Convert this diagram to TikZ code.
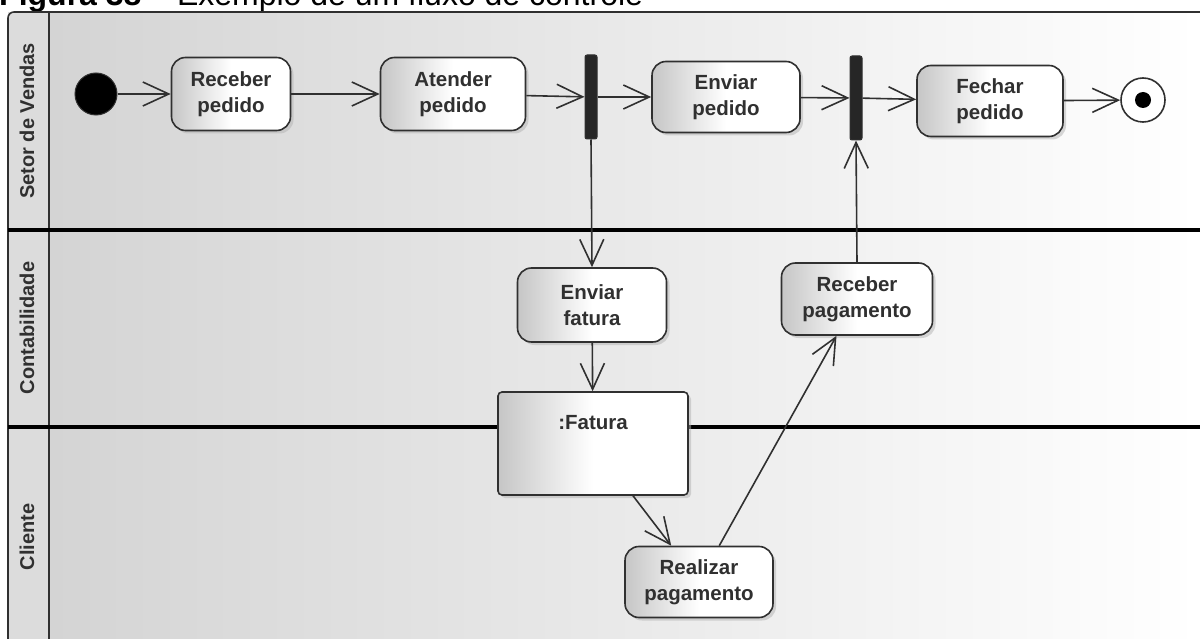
\documentclass[tikz,border=0pt]{standalone}
\usepackage{fontspec}
\setmainfont{Liberation Sans}
\usetikzlibrary{arrows.meta,shadows}
\definecolor{ink}{HTML}{303030}
\definecolor{lanegray}{HTML}{D4D4D4}
\definecolor{headgray}{HTML}{DCDCDC}
\begin{document}
\begin{tikzpicture}[x=1pt,y=-1pt,
  action/.style={draw=ink, line width=1.6pt, rounded corners=14pt,
    left color=gray!45, right color=white, middle color=white,
    font=\bfseries\fontsize{20.5}{26}\selectfont, text=ink, align=center,
    inner sep=0pt,
    drop shadow={shadow xshift=3pt, shadow yshift=-3pt, fill=gray!60, opacity=.5}},
  objbox/.style={draw=ink, line width=1.6pt, rounded corners=4pt,
    left color=gray!45, right color=white, middle color=white, inner sep=0pt,
    drop shadow={shadow xshift=3pt, shadow yshift=-3pt, fill=gray!60, opacity=.5}},
  bar/.style={fill=black!85, draw=ink, line width=1pt, rounded corners=2pt,
    minimum width=12pt, minimum height=84pt, inner sep=0pt},
  lanelabel/.style={rotate=90, font=\bfseries\fontsize{20}{22}\selectfont, text=ink},
  flow/.style={draw=ink, line width=1.6pt, -{Straight Barb[length=26pt, width=24pt]}},
  frameline/.style={draw=ink, line width=1.6pt},
  sepline/.style={draw=black, line width=3.2pt}
]
\useasboundingbox (0,0) rectangle (1200,639);
\clip (0,0) rectangle (1200,639);
\fill[white] (0,0) rectangle (1200,639);

% caption
\node[anchor=base west, inner sep=0pt, font=\fontsize{32}{36}\selectfont] (title) at (-1,6)
  {\textbf{Figura 38} – Exemplo de um fluxo de controle};

% swimlanes
\shade[left color=lanegray, right color=white] (49,12) rectangle (1200,230);
\shade[left color=lanegray, right color=white] (49,230) rectangle (1200,427);
\shade[left color=lanegray, right color=white] (49,427) rectangle (1200,650);
\fill[headgray] (8,12) rectangle (49,650);
\draw[frameline, rounded corners=6pt] (8,660) -- (8,12) -- (1220,12);
\draw[frameline] (49,12) -- (49,650);
\draw[sepline] (8,230) -- (1200,230);
\draw[sepline] (8,427) -- (1200,427);

\node[lanelabel] (l1) at (27,121) {Setor de Vendas};
\node[lanelabel] (l2) at (27,328) {Contabilidade};
\node[lanelabel] (l3) at (27,537) {Cliente};

% activity nodes
\node[circle, fill=black, draw=ink, line width=1pt, minimum size=42pt, inner sep=0pt] (init) at (96,94) {};
\node[action, minimum width=119pt, minimum height=73pt] (rped) at (231,94) {Receber\\pedido};
\node[action, minimum width=145pt, minimum height=73pt] (aped) at (453,94) {Atender\\pedido};
\node[bar] (fork) at (591,97) {};
\node[action, minimum width=148pt, minimum height=71pt] (eped) at (726,97) {Enviar\\pedido};
\node[bar] (join) at (856,98) {};
\node[action, minimum width=146pt, minimum height=71pt] (fped) at (990,101) {Fechar\\pedido};
\node[circle, draw=ink, line width=1.6pt, fill=white, minimum size=44pt, inner sep=0pt] (fin) at (1143,100) {};
\node[circle, fill=black, minimum size=16pt, inner sep=0pt] (fincore) at (fin) {};

\node[action, minimum width=149pt, minimum height=74pt] (efat) at (592,305) {Enviar\\fatura};
\node[action, minimum width=151pt, minimum height=72pt] (rpag) at (857,299) {Receber\\pagamento};
\node[objbox, minimum width=190pt, minimum height=103pt] (fat) at (593,443.5) {};
\node[font=\bfseries\fontsize{20.5}{26}\selectfont, text=ink] (fatlbl) at (593,423) {:Fatura};
\node[action, minimum width=148pt, minimum height=71pt] (real) at (699,582) {Realizar\\pagamento};

% control flows
\draw[flow] (init) -- (rped);
\draw[flow] (rped) -- (aped);
\draw[flow] (aped) -- (fork);
\draw[flow] (fork) -- (eped);
\draw[flow] (eped) -- (join);
\draw[flow] (join) -- (fped);
\draw[flow] (fped) -- (fin);
\draw[flow] (fork.south) -- (efat.north);
\draw[flow] (efat) -- (fat);
\draw[flow] (fat) -- (real);
\draw[flow] (real) -- (rpag);
\draw[flow] (rpag.north) -- (join.south);
\end{tikzpicture}
\end{document}
